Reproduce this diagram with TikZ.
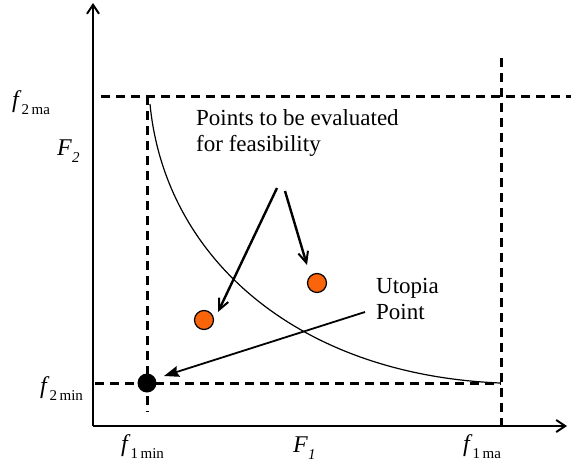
\documentclass[tikz,border=0pt]{standalone}
\usepackage{fontspec}
\setmainfont{Liberation Serif}
\usetikzlibrary{arrows.meta}
\definecolor{ptorange}{RGB}{250,100,10}
\newcommand\flab[2]{\textit{#1}\raisebox{-0.3em}{\fontsize{15}{15}\selectfont #2}}
\begin{document}
\begin{tikzpicture}[x=1pt,y=-1pt,
  axis/.style={line width=2.6pt,-{Straight Barb[length=9pt,width=12pt,line width=2pt]}},
  dsh/.style={line width=3pt,dash pattern=on 9pt off 6pt},
  lbl/.style={inner sep=0pt,anchor=base west,font=\fontsize{24}{26}\selectfont},
  txt/.style={inner sep=0pt,anchor=base west,align=left,font=\fontsize{23}{26}\selectfont},
  barb/.style={line width=2.4pt,-{Straight Barb[length=11pt,width=10pt,line width=2pt]}},
  tri/.style={line width=1.8pt,-{Stealth[length=15pt,width=11pt,inset=2pt]}},
  dot/.style={circle,inner sep=0pt,minimum size=19pt}]
\useasboundingbox (0,0) rectangle (571,463);
% axes
\coordinate (O) at (93,426);
\coordinate (Ytip) at (93,3);
\coordinate (Xtip) at (567,426);
\draw[axis] (O) -- (Ytip);
\draw[axis] (O) -- (Xtip);
% dashed bounds
\coordinate (tl) at (101,96);
\coordinate (tr) at (571,96);
\coordinate (c1) at (147,96);
\coordinate (c1b) at (147,412);
\coordinate (bl) at (95,383);
\coordinate (br) at (501,383);
\coordinate (rt) at (501,58);
\coordinate (rb) at (501,426);
\draw[dsh] (tl) -- (tr);
\draw[dsh] (c1) -- (c1b);
\draw[dsh] (bl) -- (br);
\draw[dsh] (rt) -- (rb);
% Pareto curve
\coordinate (cs) at (150,104);
\coordinate (ce) at (500,383);
\draw[line width=1.2pt] (cs) .. controls (165,260) and (300,375) .. (ce);
% points
\node[dot,fill=black] (U) at (147,383) {};
\node[dot,fill=ptorange,draw=black,line width=1.2pt] (P1) at (204,320) {};
\node[dot,fill=ptorange,draw=black,line width=1.2pt] (P2) at (317,283) {};
% texts
\node[txt] (pts) at (196,151) {Points to be evaluated\\for feasibility};
\node[txt] (utp) at (376,319) {Utopia\\Point};
\coordinate (a1s) at (277,188);
\coordinate (a1e) at (218,312);
\coordinate (a2s) at (285,191);
\coordinate (a2e) at (307,265);
\coordinate (a3s) at (365,312);
\coordinate (a3e) at (164,376);
\draw[barb] (a1s) -- (a1e);
\draw[barb] (a2s) -- (a2e);
\draw[tri] (a3s) -- (a3e);
% axis labels
\node[lbl] (f2max) at (12,107) {\flab{f}{2\,ma}};
\node[lbl] (F2) at (57,155) {\flab{F}{\textit{2}}};
\node[lbl] (f2min) at (40,393) {\flab{f}{2\,min}};
\node[lbl] (f1min) at (121,451) {\flab{f}{1\,min}};
\node[lbl] (F1) at (293,452) {\flab{F}{\textit{1}}};
\node[lbl] (f1max) at (463,451) {\flab{f}{1\,ma}};
\end{tikzpicture}
\end{document}
